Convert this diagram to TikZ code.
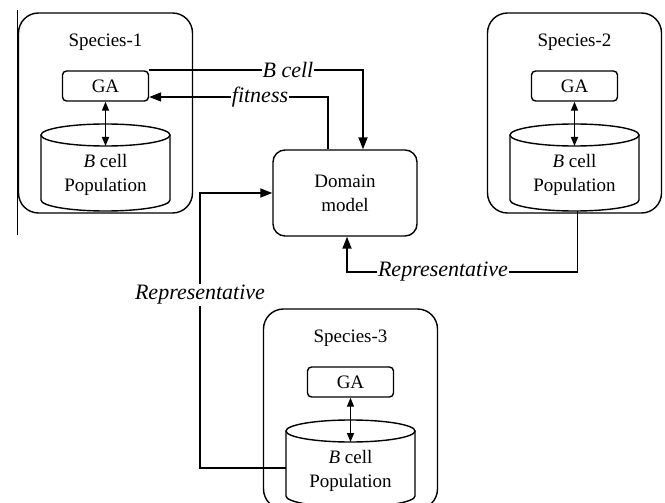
\documentclass[tikz,border=0pt]{standalone}
\usepackage{fontspec}
\setmainfont{Liberation Serif}
\usepackage{tikz}
\usetikzlibrary{arrows.meta}

\begin{document}
\begin{tikzpicture}[x=1pt, y=-1pt,
  box/.style={draw, line width=1.4pt},
  species/.style={box, rounded corners=20pt, minimum width=174pt, minimum height=200pt},
  ga/.style={box, rounded corners=4pt, minimum width=86pt, minimum height=30pt, font=\fontsize{19}{24}\selectfont},
  txt/.style={font=\fontsize{19}{24}\selectfont, align=center},
  conn/.style={line width=1.8pt},
  lbl/.style={fill=white, inner sep=1pt, font=\fontsize{22}{26}\selectfont\itshape},
  big/.style={-{Triangle[length=12pt,width=9pt]}},
  dbl/.style={line width=1.4pt, {Triangle[length=9pt,width=7pt]}-{Triangle[length=9pt,width=7pt]}}]
\useasboundingbox (0,0) rectangle (665,503);
\draw[line width=1pt] (17,10) -- (17,235);
\foreach \n/\cx/\cy in {1/105.5/113, 2/574.5/113, 3/350.5/409}{
  \begin{scope}[shift={(\cx,\cy)}]
  \node[species] (s\n) at (0,0) {};
  \node[txt] (sl\n) at (0,-71) {Species-\n};
  \node[ga] (ga\n) at (0,-27) {GA};
  \draw[box, fill=white] (-64.5,22) -- (-64.5,87) arc[start angle=180, end angle=0, x radius=64.5, y radius=11] -- (64.5,22);
  \draw[box] (0,22) ellipse[x radius=64.5, y radius=11];
  \coordinate (t\n) at (0,33);
  \coordinate (b\n) at (3,98);
  \coordinate (l\n) at (-64.5,59);
  \node[txt] (pop\n) at (0,62) {\textit{B} cell\\Population};
  \draw[dbl] (ga\n.south) -- (t\n);
  \end{scope}
}
\node[box, rounded corners=12pt, minimum width=144pt, minimum height=86pt, txt] (dm) at (345,193) {Domain\\model};
% B cell and fitness
\coordinate (bc) at (363,70);
\coordinate (ft) at (328,97);
\draw[conn, big] (ga1.east |- bc) -- (bc) -- (bc |- dm.north);
\draw[conn, big] (ft |- dm.north) -- (ft) -- (ft -| ga1.east);
% representatives
\coordinate (rr) at (347,272);
\coordinate (lr) at (200,193);
\draw[conn, big] (b2) |- (rr) -- (rr |- dm.south);
\draw[conn, big] (l3) -| (lr) -- (dm.west);
\node[lbl] (lb) at (288,70) {B cell};
\node[lbl] (lf) at (260,97) {fitness};
\node[lbl] (lr1) at (443,272) {Representative};
\node[lbl] (lr2) at (200,295) {Representative};
\end{tikzpicture}
\end{document}
